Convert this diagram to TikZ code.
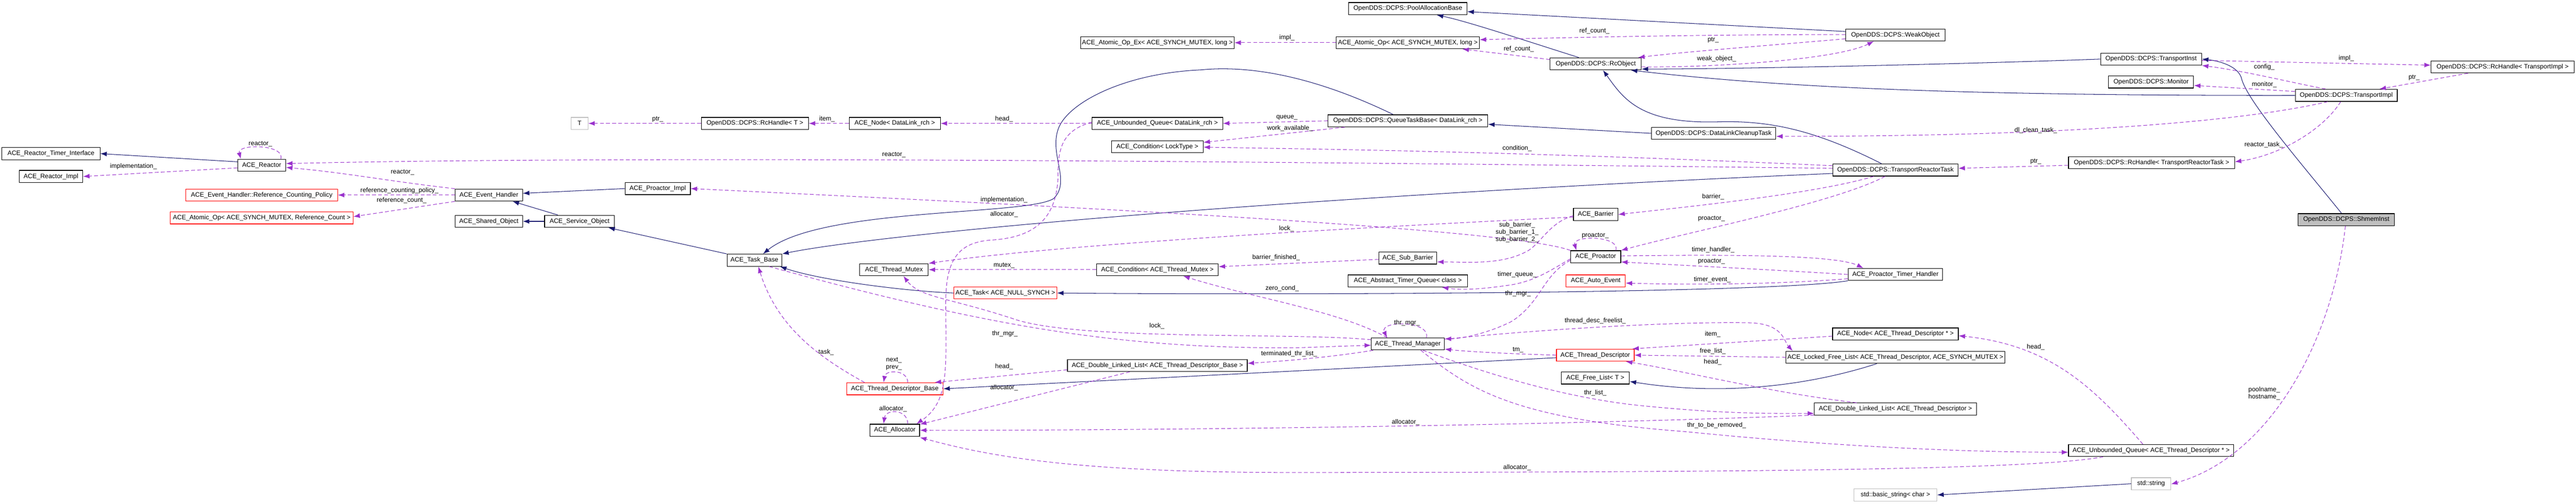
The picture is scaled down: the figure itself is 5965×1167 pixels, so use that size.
\documentclass[tikz,border=0pt]{standalone}
\usepackage{fontspec}
\setmainfont{Liberation Sans}
\usetikzlibrary{calc,arrows.meta}
\definecolor{inhc}{HTML}{191970}
\definecolor{depc}{HTML}{9A32CD}
\definecolor{redb}{HTML}{FF0000}
\definecolor{grayb}{HTML}{BFBFBF}
\newcommand\fs{\fontsize{4.2}{4.8}\selectfont}
\tikzset{
  box/.style={draw=black, line width=0.4pt, font=\fs, minimum height=0.28cm, inner sep=0.5pt, fill=white},
  redbox/.style={box, draw=redb},
  graybox/.style={box, draw=grayb},
  inh/.style={draw=inhc, line width=0.35pt, -{Latex[length=0.15cm,width=0.11cm]}},
  dep/.style={draw=depc, line width=0.35pt, dash pattern=on 2.5pt off 1.5pt, -{Latex[length=0.15cm,width=0.11cm,fill=depc]}},
  lbl/.style={font=\fs, inner sep=0pt, align=center}
}
\begin{document}
\begin{tikzpicture}[x=0.01cm,y=-0.01cm]
\useasboundingbox (0,0) rectangle (5965,1167);
% nodes
\node[box,minimum width=2.27cm] (rti) at (118,356) {ACE\_Reactor\_Timer\_Interface};
\node[box,minimum width=1.11cm] (reactor) at (606,383) {ACE\_Reactor};
\node[box,minimum width=1.47cm] (rimpl) at (118,409) {ACE\_Reactor\_Impl};
\node[redbox,minimum width=3.51cm] (rcp) at (606,452) {ACE\_Event\_Handler::Reference\_Counting\_Policy};
\node[redbox,minimum width=4.23cm] (aorc) at (606,505) {ACE\_Atomic\_Op< ACE\_SYNCH\_MUTEX, Reference\_Count >};
\node[graybox,minimum width=0.39cm] (T) at (1342,286) {T};
\node[box,minimum width=2.48cm] (rch) at (1748,286) {OpenDDS::DCPS::RcHandle< T >};
\node[box,minimum width=1.56cm] (evh) at (1132,452) {ACE\_Event\_Handler};
\node[box,minimum width=1.51cm] (pimpl) at (1523,437) {ACE\_Proactor\_Impl};
\node[box,minimum width=1.56cm] (shared) at (1132,513) {ACE\_Shared\_Object};
\node[box,minimum width=1.62cm] (service) at (1342,513) {ACE\_Service\_Object};
\node[box,minimum width=1.27cm] (taskbase) at (1747,603) {ACE\_Task\_Base};
\node[redbox,minimum width=2.23cm] (tdb) at (2072,901) {ACE\_Thread\_Descriptor\_Base};
\node[box,minimum width=3.55cm] (aopex) at (2680,99) {ACE\_Atomic\_Op\_Ex< ACE\_SYNCH\_MUTEX, long >};
\node[box,minimum width=2.11cm] (nodedl) at (2072,286) {ACE\_Node< DataLink\_rch >};
\node[box,minimum width=3.02cm] (uqdl) at (2680,286) {ACE\_Unbounded\_Queue< DataLink\_rch >};
\node[box,minimum width=2.12cm] (condlt) at (2680,340) {ACE\_Condition< LockType >};
\node[box,minimum width=1.59cm] (tmutex) at (2070,625) {ACE\_Thread\_Mutex};
\node[box,minimum width=2.82cm] (condtm) at (2680,625) {ACE\_Condition< ACE\_Thread\_Mutex >};
\node[redbox,minimum width=2.38cm] (tasknull) at (2328,679) {ACE\_Task< ACE\_NULL\_SYNCH >};
\node[box,minimum width=4.16cm] (dlltdb) at (2680,847) {ACE\_Double\_Linked\_List< ACE\_Thread\_Descriptor\_Base >};
\node[box,minimum width=1.15cm] (alloc) at (2072,997) {ACE\_Allocator};
\node[box,minimum width=2.74cm] (pab) at (3260,20) {OpenDDS::DCPS::PoolAllocationBase};
\node[box,minimum width=3.31cm] (aol) at (3260,99) {ACE\_Atomic\_Op< ACE\_SYNCH\_MUTEX, long >};
\node[box,minimum width=2.11cm] (rcobj) at (3695,148) {OpenDDS::DCPS::RcObject};
\node[box,minimum width=3.70cm] (qtb) at (3260,280) {OpenDDS::DCPS::QueueTaskBase< DataLink\_rch >};
\node[box,minimum width=2.88cm] (dlct) at (3968,309) {OpenDDS::DCPS::DataLinkCleanupTask};
\node[box,minimum width=1.03cm] (barrier) at (3695,497) {ACE\_Barrier};
\node[box,minimum width=1.16cm] (proactor) at (3695,595) {ACE\_Proactor};
\node[box,minimum width=1.34cm] (subbar) at (3260,598) {ACE\_Sub\_Barrier};
\node[box,minimum width=2.76cm] (atq) at (3260,651) {ACE\_Abstract\_Timer\_Queue< class >};
\node[redbox,minimum width=1.37cm] (autoev) at (3695,651) {ACE\_Auto\_Event};
\node[box,minimum width=1.69cm] (tm) at (3260,797) {ACE\_Thread\_Manager};
\node[redbox,minimum width=1.80cm] (td) at (3694,823) {ACE\_Thread\_Descriptor};
\node[box,minimum width=1.58cm] (freelist) at (3694,876) {ACE\_Free\_List< T >};
\node[box,minimum width=2.30cm] (weak) at (4389,81) {OpenDDS::DCPS::WeakObject};
\node[box,minimum width=2.34cm] (tinst) at (4981,137) {OpenDDS::DCPS::TransportInst};
\node[box,minimum width=1.97cm] (monitor) at (4981,190) {OpenDDS::DCPS::Monitor};
\node[box,minimum width=2.36cm] (timpl) at (5433,221) {OpenDDS::DCPS::TransportImpl};
\node[box,minimum width=3.31cm] (rchti) at (5795,155) {OpenDDS::DCPS::RcHandle< TransportImpl >};
\node[box,minimum width=3.84cm] (rchtrt) at (4982,377) {OpenDDS::DCPS::RcHandle< TransportReactorTask >};
\node[box,minimum width=2.90cm] (trt) at (4389,394) {OpenDDS::DCPS::TransportReactorTask};
\node[box,minimum width=2.23cm,fill=grayb] (shmem) at (5433,509) {OpenDDS::DCPS::ShmemInst};
\node[graybox,minimum width=0.91cm] (string) at (4981,1121) {std::string};
\node[graybox,minimum width=1.92cm] (bstring) at (4389,1147) {std::basic\_string< char >};
\node[box,minimum width=3.82cm] (uqtd) at (4981,1044) {ACE\_Unbounded\_Queue< ACE\_Thread\_Descriptor * >};
\node[box,minimum width=2.19cm] (pth) at (4389,636) {ACE\_Proactor\_Timer\_Handler};
\node[box,minimum width=2.91cm] (nodetd) at (4389,774) {ACE\_Node< ACE\_Thread\_Descriptor * >};
\node[box,minimum width=5.06cm] (lfl) at (4389,828) {ACE\_Locked\_Free\_List< ACE\_Thread\_Descriptor, ACE\_SYNCH\_MUTEX >};
\node[box,minimum width=3.75cm] (dlltd) at (4389,948) {ACE\_Double\_Linked\_List< ACE\_Thread\_Descriptor >};

% inheritance
\draw[inh] ($(reactor.west)+(0,-8)$) -- (rti.east);
\draw[inh] (pimpl.west) -- ($(evh.east)+(0,-4)$);
\draw[inh] ($(service.north)+(-50,0)$) -- ($(evh.south)+(55,0)$);
\draw[inh] (service.west) -- (shared.east);
\draw[inh] (taskbase.north west) -- ($(service.south east)+(-15,0)$);
\draw[inh] ($(qtb.north)+(-34,0)$) .. controls (3050,180) and (2900,150) .. (2780,162) .. controls (2600,170) and (2470,240) .. (2450,300) .. controls (2430,360) and (2480,420) .. (2440,460) .. controls (2380,500) and (1900,480) .. ($(taskbase.north)+(20,0)$);
\draw[inh] ($(trt.west)+(0,8)$) .. controls (3000,455) and (2050,540) .. (taskbase.north east);
\draw[inh] (tasknull.west) .. controls (2100,675) and (1900,650) .. ($(taskbase.south east)+(-5,0)$);
\draw[inh] (pth.south west) .. controls (4100,680) and (3000,684) .. (tasknull.east);
\draw[inh] (dlct.west) -- ($(qtb.east)+(0,8)$);
\draw[inh] ($(rcobj.north)+(-39,0)$) .. controls (3550,100) and (3400,50) .. ($(pab.south)+(67,0)$);
\draw[inh] ($(weak.west)+(0,-8)$) -- ($(pab.east)+(0,7)$);
\draw[inh] (tinst.west) .. controls (4500,150) and (4000,160) .. ($(rcobj.east)+(0,12)$);
\draw[inh] (timpl.west) .. controls (4500,222) and (4100,200) .. ($(rcobj.south east)+(-25,0)$);
\draw[inh] ($(trt.north)+(-32,0)$) .. controls (4200,300) and (4100,281) .. (3990,282) .. controls (3800,290) and (3760,230) .. ($(rcobj.south)+(17,0)$);
\draw[inh] ($(shmem.north)+(-11,0)$) .. controls (5330,380) and (5200,230) .. (5190,180) .. controls (5180,150) and (5130,140) .. (tinst.east);
\draw[inh] ($(lfl.south)+(-43,0)$) .. controls (4200,890) and (4000,920) .. ($(freelist.east)+(0,8)$);
\draw[inh] ($(td.west)+(0,6)$) -- (tdb.east);
\draw[inh] (string.west) -- (bstring.east);

% dependencies
\draw[dep] ($(reactor.north east)+(-12,0)$) .. controls +(10,-35) and +(-10,-35) .. ($(reactor.north west)+(8,0)$);
\node[lbl] (l1) at (603,334) {reactor\_};
\draw[dep] ($(reactor.west)+(0,6)$) -- (rimpl.east);
\node[lbl] (l2) at (309,386) {implementation\_};
\draw[dep] (evh.north west) .. controls (900,420) and (800,400) .. ($(reactor.east)+(0,5)$);
\node[lbl] (l3) at (932,399) {reactor\_};
\draw[dep] (evh.west) -- (rcp.east);
\node[lbl] (l4) at (925,442) {reference\_counting\_policy\_};
\draw[dep] (evh.south west) -- ($(aorc.east)+(0,-3)$);
\node[lbl] (l5) at (930,464) {reference\_count\_};
\draw[dep] ($(trt.west)+(0,-4)$) .. controls (3000,375) and (1500,360) .. ($(reactor.east)+(0,-4)$);
\node[lbl] (l6) at (2070,359) {reactor\_};
\draw[dep] ($(trt.west)+(0,-10)$) .. controls (3500,350) and (3000,345) .. ($(condlt.east)+(0,1)$);
\node[lbl] (l7) at (3513,344) {condition\_};
\draw[dep] ($(qtb.south west)+(40,0)$) -- ($(condlt.east)+(0,-10)$);
\node[lbl] (l8) at (2987,297) {work\_available\_};
\draw[dep] (qtb.west) -- (uqdl.east);
\node[lbl] (l9) at (2980,272) {queue\_};
\draw[dep] (uqdl.west) -- (nodedl.east);
\node[lbl] (l10) at (2325,276) {head\_};
\draw[dep] (nodedl.west) -- (rch.east);
\node[lbl] (l11) at (1915,276) {item\_};
\draw[dep] (rch.west) -- (T.east);
\node[lbl] (l12) at (1523,276) {ptr\_};
\draw[dep] ($(uqdl.west)+(0,-3)$) .. controls (2470,300) and (2450,330) .. (2450,400) .. controls (2450,520) and (2380,550) .. (2300,556) .. controls (2220,560) and (2190,600) .. (2190,700) .. controls (2190,850) and (2200,930) .. ($(alloc.north east)+(-8,0)$);
\node[lbl] (l13) at (2325,497) {allocator\_};
\draw[dep] (proactor.north west) .. controls (3500,530) and (2500,480) .. (pimpl.east);
\node[lbl] (l14) at (2325,463) {implementation\_};
\draw[dep] (aol.west) -- (aopex.east);
\node[lbl] (l15) at (2980,88) {impl\_};
\draw[dep] ($(rcobj.west)+(0,-10)$) -- ($(aol.south east)+(-40,0)$);
\node[lbl] (l16) at (3517,114) {ref\_count\_};
\draw[dep] ($(weak.west)+(0,-1)$) .. controls (4000,80) and (3700,85) .. ($(aol.east)+(0,-7)$);
\node[lbl] (l17) at (3692,72) {ref\_count\_};
\draw[dep] ($(weak.west)+(0,9)$) .. controls (4100,105) and (3900,120) .. ($(rcobj.north east)+(-8,0)$);
\node[lbl] (l18) at (3967,93) {ptr\_};
\draw[dep] ($(rcobj.east)+(0,7)$) .. controls (3950,157) and (4250,140) .. ($(weak.south)+(-50,0)$);
\node[lbl] (l19) at (3975,136) {weak\_object\_};
\draw[dep] ($(timpl.north)+(-48,0)$) .. controls (5300,190) and (5200,165) .. (tinst.south east);
\node[lbl] (l20) at (5243,156) {config\_};
\draw[dep] ($(timpl.west)+(0,-9)$) -- ($(monitor.east)+(0,8)$);
\node[lbl] (l21) at (5243,196) {monitor\_};
\draw[dep] ($(tinst.east)+(0,3)$) -- ($(rchti.west)+(0,-4)$);
\node[lbl] (l22) at (5433,135) {impl\_};
\draw[dep] ($(rchti.south)+(-80,0)$) -- ($(timpl.north)+(77,0)$);
\node[lbl] (l23) at (5590,180) {ptr\_};
\draw[dep] ($(timpl.south)+(-43,0)$) .. controls (5200,280) and (4800,316) .. ($(dlct.east)+(0,7)$);
\node[lbl] (l24) at (4714,302) {dl\_clean\_task\_};
\draw[dep] ($(timpl.south)+(-13,0)$) .. controls (5380,300) and (5280,360) .. ($(rchtrt.east)+(0,-2)$);
\node[lbl] (l25) at (5242,336) {reactor\_task\_};
\draw[dep] ($(rchtrt.west)+(0,6)$) -- ($(trt.east)+(0,-4)$);
\node[lbl] (l26) at (4714,374) {ptr\_};
\draw[dep] ($(trt.south)+(-50,0)$) .. controls (4200,450) and (3900,480) .. (barrier.east);
\node[lbl] (l27) at (3967,456) {barrier\_};
\draw[dep] ($(trt.south)+(-24,0)$) .. controls (4250,470) and (3900,540) .. (proactor.north east);
\node[lbl] (l28) at (3963,507) {proactor\_};
\draw[dep] ($(barrier.west)+(0,6)$) .. controls (3300,520) and (2500,560) .. (tmutex.north east);
\node[lbl] (l29) at (2979,530) {lock\_};
\draw[dep] ($(barrier.west)+(0,3)$) .. controls (3590,515) and (3570,560) .. (3540,580) .. controls (3480,615) and (3400,607) .. ($(subbar.east)+(0,9)$);
\node[lbl] (l30) at (3513,538) {sub\_barrier\_\\sub\_barrier\_1\_\\sub\_barrier\_2\_};
\draw[dep] ($(subbar.west)+(0,3)$) -- ($(condtm.east)+(0,-7)$);
\node[lbl] (l31) at (2955,597) {barrier\_finished\_};
\draw[dep] (condtm.west) -- (tmutex.east);
\node[lbl] (l32) at (2325,615) {mutex\_};
\draw[dep] ($(proactor.north east)+(-12,0)$) .. controls +(10,-35) and +(-10,-35) .. ($(proactor.north west)+(14,0)$);
\node[lbl] (l33) at (3694,546) {proactor\_};
\draw[dep] ($(proactor.east)+(0,-2)$) .. controls (4000,590) and (4250,590) .. ($(pth.north west)+(36,0)$);
\node[lbl] (l34) at (3967,579) {timer\_handler\_};
\draw[dep] (pth.west) .. controls (4100,625) and (3900,615) .. ($(proactor.east)+(0,12)$);
\node[lbl] (l35) at (3963,606) {proactor\_};
\draw[dep] ($(pth.west)+(0,10)$) .. controls (4100,660) and (3900,660) .. ($(autoev.east)+(0,5)$);
\node[lbl] (l36) at (3965,648) {timer\_event\_};
\draw[dep] ($(proactor.west)+(0,5)$) .. controls (3600,620) and (3560,650) .. (3500,660) .. controls (3420,672) and (3380,672) .. ($(atq.south east)+(-60,0)$);
\node[lbl] (l37) at (3513,636) {timer\_queue\_};
\draw[dep] ($(proactor.west)+(0,8)$) .. controls (3570,640) and (3570,700) .. (3500,745) .. controls (3440,775) and (3380,785) .. ($(tm.north east)+(0,3)$);
\node[lbl] (l38) at (3515,680) {thr\_mgr\_};
\draw[dep] ($(tm.north)+(43,0)$) .. controls +(10,-40) and +(-20,-40) .. ($(tm.north)+(-48,0)$);
\node[lbl] (l39) at (3258,748) {thr\_mgr\_};
\draw[dep] ($(taskbase.south east)+(-30,0)$) .. controls (2300,760) and (2600,808) .. (3000,806) -- ($(tm.west)+(0,3)$);
\node[lbl] (l40) at (2327,774) {thr\_mgr\_};
\draw[dep] ($(tm.north west)+(0,5)$) .. controls (3000,770) and (2500,790) .. (2350,740) .. controls (2200,690) and (2130,690) .. ($(tmutex.south)+(22,0)$);
\node[lbl] (l41) at (2679,755) {lock\_};
\draw[dep] ($(tm.north)+(-48,0)$) .. controls (3100,720) and (2900,690) .. ($(condtm.south)+(60,0)$);
\node[lbl] (l42) at (2969,668) {zero\_cond\_};
\draw[dep] ($(tm.south west)+(5,0)$) .. controls (3100,825) and (3000,835) .. ($(dlltdb.east)+(0,-5)$);
\node[lbl] (l43) at (2985,820) {terminated\_thr\_list\_};
\draw[dep] ($(tm.east)+(0,-11)$) .. controls (3600,760) and (3900,745) .. (4050,748) .. controls (4130,750) and (4130,790) .. ($(lfl.north west)+(16,0)$);
\node[lbl] (l44) at (3694,744) {thread\_desc\_freelist\_};
\draw[dep] ($(tm.south)+(35,0)$) .. controls (3400,850) and (3600,920) .. (3800,940) .. controls (4000,960) and (4100,958) .. ($(dlltd.west)+(0,10)$);
\node[lbl] (l45) at (3694,910) {thr\_list\_};
\draw[dep] ($(tm.south)+(30,0)$) .. controls (3400,900) and (3500,970) .. (3900,1000) .. controls (4300,1040) and (4600,1048) .. ($(uqtd.west)+(0,4)$);
\node[lbl] (l46) at (3975,986) {thr\_to\_be\_removed\_};
\draw[dep] (td.west) .. controls (3500,820) and (3400,815) .. ($(tm.east)+(0,12)$);
\node[lbl] (l47) at (3515,811) {tm\_};
\draw[dep] ($(nodetd.west)+(0,5)$) -- ($(td.north east)+(-5,0)$);
\node[lbl] (l48) at (3966,775) {item\_};
\draw[dep] (lfl.west) -- (td.east);
\node[lbl] (l49) at (3966,814) {free\_list\_};
\draw[dep] ($(dlltd.north)+(-90,0)$) .. controls (4100,910) and (3900,860) .. ($(td.south east)+(-20,0)$);
\node[lbl] (l50) at (3966,839) {head\_};
\draw[dep] ($(uqtd.north)+(-19,0)$) .. controls (4850,900) and (4750,800) .. ($(nodetd.east)+(0,4)$);
\node[lbl] (l51) at (4714,804) {head\_};
\draw[dep] ($(dlltdb.west)+(0,10)$) -- ($(tdb.north east)+(-20,0)$);
\node[lbl] (l52) at (2325,850) {head\_};
\draw[dep] ($(tdb.north)+(30,0)$) .. controls +(0,-30) and +(5,-30) .. ($(tdb.north)+(-26,0)$);
\node[lbl] (l53) at (2070,843) {next\_\\prev\_};
\draw[dep] ($(tdb.north)+(-70,0)$) .. controls (1900,830) and (1800,760) .. ($(taskbase.south)+(9,0)$);
\node[lbl] (l54) at (1913,816) {task\_};
\draw[dep] ($(dlltdb.south)+(-64,0)$) -- ($(alloc.north east)+(0,1)$);
\node[lbl] (l55) at (2325,899) {allocator\_};
\draw[dep] ($(dlltd.west)+(0,14)$) .. controls (3500,990) and (2500,998) .. (alloc.east);
\node[lbl] (l56) at (3255,978) {allocator\_};
\draw[dep] ($(uqtd.south)+(-111,0)$) .. controls (4700,1090) and (4000,1094) .. (3000,1095) .. controls (2500,1095) and (2300,1060) .. ($(alloc.south east)+(0,2)$);
\node[lbl] (l57) at (3513,1084) {allocator\_};
\draw[dep] ($(alloc.north)+(30,0)$) .. controls +(0,-35) and +(5,-35) .. ($(alloc.north)+(-26,0)$);
\node[lbl] (l58) at (2068,948) {allocator\_};
\draw[dep] ($(shmem.south)+(-2,0)$) .. controls (5400,800) and (5250,1060) .. ($(string.east)+(0,1)$);
\node[lbl] (l59) at (5243,912) {poolname\_\\hostname\_};
\end{tikzpicture}
\end{document}
